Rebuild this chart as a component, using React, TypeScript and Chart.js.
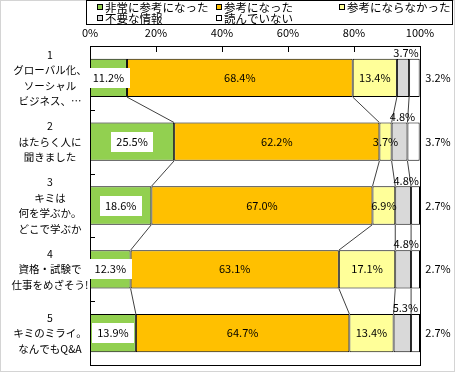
import React, { useEffect, useRef } from 'react';
import { Chart, registerables } from 'chart.js';
Chart.register(...registerables);

const categories = [
  ['1', 'グローバル化、', 'ソーシャル', 'ビジネス、…'],
  ['2', 'はたらく人に', '聞きました'],
  ['3', 'キミは', '何を学ぶか。', 'どこで学ぶか'],
  ['4', '資格・試験で', '仕事をめざそう!'],
  ['5', 'キミのミライ。', 'なんでもQ&A'],
];
const seriesNames = ['非常に参考になった', '参考になった', '参考にならなかった', '不要な情報', '読んでいない'];
const veryHelpful = [11.2, 25.5, 18.6, 12.3, 13.9];
const helpful = [68.4, 62.2, 67.0, 63.1, 64.7];
const notHelpful = [13.4, 3.7, 6.9, 17.1, 13.4];
const unnecessary = [3.7, 4.8, 4.8, 4.8, 5.3];
const notRead = [3.2, 3.7, 2.7, 2.7, 2.7];
const xTickValues = [0, 20, 40, 60, 80, 100];

const seriesValues = [veryHelpful, helpful, notHelpful, unnecessary, notRead];
const colors = ['#92D050', '#FFC000', '#FFFF99', '#D9D9D9', '#FFFFFF'];
const labelModes = ['boxed', 'center', 'center', 'above', 'outside'];
const FONT = '"Noto Sans CJK JP", "Noto Sans", sans-serif';

const overlay = {
  id: 'overlay',
  afterDatasetsDraw(chart: any) {
    const ctx = chart.ctx;
    const area = chart.chartArea;
    const xs = chart.scales.x;
    const ys = chart.scales.y;
    const metas = seriesValues.map((_, i) => chart.getDatasetMeta(i));
    ctx.save();
    // series lines
    ctx.strokeStyle = '#404040';
    ctx.lineWidth = 1;
    for (let j = 0; j < categories.length - 1; j++) {
      for (let k = 0; k < 4; k++) {
        const a = metas[k].data[j].getProps(['x', 'y', 'height'], true);
        const b = metas[k].data[j + 1].getProps(['x', 'y', 'height'], true);
        ctx.beginPath();
        ctx.moveTo(a.x, a.y + a.height / 2);
        ctx.lineTo(b.x, b.y - b.height / 2);
        ctx.stroke();
      }
    }
    // plot border
    ctx.strokeStyle = '#000';
    ctx.strokeRect(Math.round(area.left) + 0.5, Math.round(area.top) + 0.5, Math.round(area.right - area.left), Math.round(area.bottom - area.top));
    // inside tick marks
    ctx.beginPath();
    xTickValues.slice(1, -1).forEach((v) => {
      const px = Math.round(xs.getPixelForValue(v)) + 0.5;
      ctx.moveTo(px, area.top);
      ctx.lineTo(px, area.top + 6);
    });
    for (let j = 0; j < categories.length - 1; j++) {
      const py = Math.round((ys.getPixelForValue(j) + ys.getPixelForValue(j + 1)) / 2) + 0.5;
      ctx.moveTo(area.left, py);
      ctx.lineTo(area.left + 5, py);
    }
    ctx.stroke();
    // category labels (centred multi-line)
    ctx.fillStyle = '#000';
    ctx.font = `10.5px ${FONT}`;
    ctx.textAlign = 'center';
    ctx.textBaseline = 'middle';
    const lh = 15.5;
    categories.forEach((lines, j) => {
      const cy = ys.getPixelForValue(j);
      const y0 = cy - ((lines.length - 1) * lh) / 2;
      lines.forEach((line, l) => ctx.fillText(line, 50, y0 + l * lh));
    });
    // data labels
    ctx.font = `11px ${FONT}`;
    seriesValues.forEach((vals, k) => {
      vals.forEach((v, j) => {
        const el = metas[k].data[j].getProps(['x', 'base', 'y', 'height'], true);
        const text = v.toFixed(1) + '%';
        const cx = (el.x + el.base) / 2;
        const mode = labelModes[k];
        if (mode === 'boxed') {
          const w = ctx.measureText(text).width + 10;
          ctx.fillStyle = '#fff';
          ctx.fillRect(Math.round(cx - w / 2), Math.round(el.y - 10), Math.round(w), 20);
          ctx.fillStyle = '#000';
          ctx.fillText(text, cx, el.y);
        } else if (mode === 'center') {
          ctx.fillStyle = '#000';
          ctx.fillText(text, cx, el.y);
        } else if (mode === 'above') {
          ctx.fillStyle = '#000';
          ctx.fillText(text, cx + 3, el.y - el.height / 2 - 6);
        } else {
          ctx.fillStyle = '#000';
          ctx.fillText(text, area.right + 18, el.y);
        }
      });
    });
    ctx.restore();
  },
  afterDraw(chart: any) {
    const ctx = chart.ctx;
    ctx.save();
    // outer border
    ctx.strokeStyle = '#d4d4d4';
    ctx.lineWidth = 1;
    ctx.strokeRect(0.5, 0.5, 454, 371);
    // legend box
    ctx.strokeStyle = '#000';
    ctx.fillStyle = '#fff';
    ctx.fillRect(86, 0, 366, 24);
    ctx.strokeRect(86.5, 0.5, 366, 24);
    const cols = [97, 216, 339];
    const rows = [7, 18];
    ctx.font = `11.5px ${FONT}`;
    ctx.textAlign = 'left';
    ctx.textBaseline = 'middle';
    seriesNames.forEach((name, i) => {
      const cx = cols[i % 3];
      const cy = rows[Math.floor(i / 3)];
      ctx.fillStyle = colors[i];
      ctx.fillRect(cx, cy - 3, 6, 6);
      ctx.strokeStyle = '#000';
      ctx.strokeRect(cx + 0.5, cy - 3 + 0.5, 5, 5);
      ctx.fillStyle = '#000';
      ctx.fillText(name, cx + 8, cy + 0.5);
    });
    ctx.restore();
  },
};

export default function App() {
  const ref = useRef<HTMLCanvasElement>(null);
  useEffect(() => {
    if (!ref.current) return;
    const chart = new Chart(ref.current, {
      type: 'bar',
      data: {
        labels: categories.map((c) => c.join(' ')),
        datasets: seriesValues.map((vals, i) => ({
          label: seriesNames[i],
          data: vals,
          backgroundColor: colors[i],
          borderColor: '#000',
          borderWidth: 1,
          borderSkipped: false,
          barPercentage: 0.6,
          categoryPercentage: 1,
        })),
      },
      options: {
        indexAxis: 'y',
        animation: false,
        responsive: false,
        devicePixelRatio: 1,
        layout: { padding: { top: 0, left: 0, right: 54, bottom: 21 } },
        plugins: {
          legend: { display: false },
          tooltip: { enabled: false },
        },
        scales: {
          x: {
            type: 'linear',
            position: 'top',
            stacked: true,
            min: 0,
            max: 100,
            afterBuildTicks: (scale: any) => {
              scale.ticks = xTickValues.map((v) => ({ value: v }));
            },
            afterFit: (scale: any) => {
              scale.height = 46;
            },
            grid: { display: false, drawTicks: false },
            border: { display: false },
            ticks: {
              padding: 7,
              color: '#000',
              font: { family: FONT, size: 11 },
              callback: (v: any) => v + '%',
              maxRotation: 0,
            },
          },
          y: {
            type: 'category',
            stacked: true,
            afterFit: (scale: any) => {
              scale.width = 90;
            },
            grid: { display: false, drawTicks: false },
            border: { display: false },
            ticks: { display: false },
          },
        },
      },
      plugins: [overlay],
    });
    return () => chart.destroy();
  }, []);
  return (
    <div style={{ position: 'fixed', left: 0, top: 0, width: 474, height: 386, background: '#fff' }}>
      <canvas ref={ref} width={474} height={386} style={{ width: 474, height: 386, display: 'block' }} />
    </div>
  );
}
